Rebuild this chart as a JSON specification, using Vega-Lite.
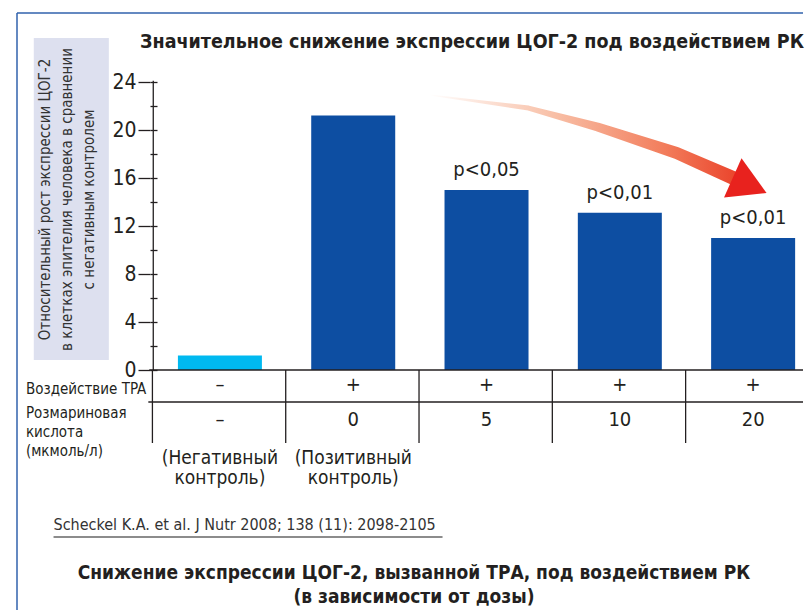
{
  "$schema": "https://vega.github.io/schema/vega-lite/v6.json",
  "width": 796,
  "height": 597,
  "autosize": {"type": "none"},
  "padding": {"left": 12, "top": 13, "right": 0, "bottom": 0},
  "background": "white",
  "config": {
    "font": "Liberation Sans Narrow, DejaVu Sans Condensed, sans-serif",
    "view": {"stroke": null},
    "text": {"color": "#231f20"}
  },
  "title": {
    "text": "Значительное снижение экспрессии ЦОГ-2 под воздействием РК",
    "anchor": "end",
    "frame": "group",
    "orient": "top",
    "offset": 0,
    "dy": 59,
    "dx": -4,
    "fontSize": 19.5,
    "fontWeight": "bold",
    "color": "#231f20",
    "baseline": "bottom"
  },
  "datasets": {
    "groups": [
      {"pos": 1, "group": "Негативный контроль", "value": 1.2, "tpa": "–", "rk": "–", "ctrl": "(Негативный\nконтроль)", "p": ""},
      {"pos": 2, "group": "ТРА", "value": 21.2, "tpa": "+", "rk": "0", "ctrl": "(Позитивный\nконтроль)", "p": ""},
      {"pos": 3, "group": "ТРА + РК", "value": 15.0, "tpa": "+", "rk": "5", "ctrl": "", "p": "p<0,05"},
      {"pos": 4, "group": "ТРА + РК", "value": 13.1, "tpa": "+", "rk": "10", "ctrl": "", "p": "p<0,01"},
      {"pos": 5, "group": "ТРА + РК", "value": 11.0, "tpa": "+", "rk": "20", "ctrl": "", "p": "p<0,01"}
    ],
    "arrow": [
      {"i": 1, "ax": 2.574, "ay": 22.92, "w": 1},
      {"i": 2, "ax": 3.315, "ay": 21.83, "w": 5},
      {"i": 3, "ax": 3.833, "ay": 20.25, "w": 9},
      {"i": 4, "ax": 4.426, "ay": 18.08, "w": 12},
      {"i": 5, "ax": 4.87, "ay": 15.9, "w": 14}
    ],
    "one": [{}]
  },
  "resolve": {"axis": {"y": "independent"}},
  "layer": [
    {
      "data": {"name": "one"},
      "mark": {"type": "rect", "color": "#dde0ef"},
      "encoding": {
        "x": {"datum": -0.3963, "type": "quantitative", "axis": null},
        "x2": {"datum": 0.1667},
        "y": {"datum": 27.667, "type": "quantitative", "axis": null},
        "y2": {"datum": 0.833}
      }
    },
    {
      "data": {"name": "groups"},
      "mark": {"type": "bar", "size": 84, "orient": "vertical"},
      "encoding": {
        "x": {"field": "pos", "type": "quantitative", "scale": {"domain": [-0.5222, 5.3741], "nice": false, "zero": false}, "axis": null},
        "y": {
          "field": "value",
          "type": "quantitative",
          "scale": {"domain": [-20, 29.75], "nice": false, "zero": false},
          "axis": {
            "orient": "left",
            "zindex": 1,
            "values": [0, 4, 8, 12, 16, 20, 24],
            "offset": -138,
            "domain": false,
            "grid": false,
            "tickSize": 12,
            "tickColor": "#231f20",
            "tickWidth": 1.3,
            "labelFontSize": 21,
            "labelColor": "#231f20",
            "labelPadding": 2,
            "title": ["Относительный рост экспрессии ЦОГ-2", "в клетках эпителия человека в сравнении", "с негативным контролем"],
            "titleFontSize": 15,
            "titleFontWeight": "normal",
            "titleColor": "#333333",
            "titleAngle": -90,
            "titleAlign": "center",
            "titleBaseline": "middle",
            "titleLineHeight": 22,
            "titleX": -106,
            "titleY": 186
          }
        },
        "y2": {"datum": 0},
        "color": {
          "field": "group",
          "type": "nominal",
          "scale": {"domain": ["Негативный контроль", "ТРА", "ТРА + РК"], "range": ["#00b9f0", "#0d4ea2", "#0d4ea2"]},
          "legend": null
        }
      }
    },
    {
      "data": {"name": "groups"},
      "mark": {"type": "text", "fontSize": 20, "dy": -20, "baseline": "middle"},
      "encoding": {
        "x": {"field": "pos", "type": "quantitative", "axis": null},
        "y": {
          "field": "value",
          "type": "quantitative",
          "axis": {
            "orient": "left",
            "zindex": 1,
            "values": [0, 2, 4, 6, 8, 10, 12, 14, 16, 18, 20, 22, 24],
            "offset": -138,
            "domain": false,
            "grid": false,
            "labels": false,
            "tickSize": -7,
            "tickColor": "#231f20",
            "tickWidth": 1.3,
            "title": null
          }
        },
        "text": {"field": "p"}
      }
    },
    {
      "data": {"name": "arrow"},
      "mark": {
        "type": "trail",
        "fill": {"gradient": "linear", "x1": 0, "y1": 0, "x2": 1, "y2": 0, "stops": [
          {"offset": 0, "color": "#ffffff"},
          {"offset": 0.4, "color": "#f8bfa6"},
          {"offset": 0.75, "color": "#f27d5c"},
          {"offset": 1, "color": "#ea4028"}
        ]}
      },
      "encoding": {
        "x": {"field": "ax", "type": "quantitative", "axis": null},
        "y": {"field": "ay", "type": "quantitative", "axis": null},
        "size": {"field": "w", "type": "quantitative", "scale": null, "legend": null},
        "order": {"field": "i"}
      }
    },
    {
      "data": {"name": "one"},
      "mark": {"type": "point", "shape": "M -0.86 -1 L 0.86 0 L -0.86 1 Z", "size": 1850, "angle": 24, "filled": true, "color": "#e8221e", "opacity": 1, "strokeWidth": 0},
      "encoding": {
        "x": {"datum": 4.974, "type": "quantitative", "axis": null},
        "y": {"datum": 15.375, "type": "quantitative", "axis": null}
      }
    },
    {
      "data": {"name": "one"},
      "mark": {"type": "rule", "color": "#231f20", "strokeWidth": 1.3},
      "encoding": {
        "x": {"datum": 0.5, "type": "quantitative", "axis": null},
        "y": {"datum": 24.1, "type": "quantitative", "axis": null},
        "y2": {"datum": 0}
      }
    },
    {
      "data": {"name": "groups"},
      "mark": {"type": "rule", "color": "#231f20", "strokeWidth": 1.3, "xOffset": -67.5},
      "encoding": {
        "x": {"field": "pos", "type": "quantitative", "axis": null},
        "y": {"datum": 0, "type": "quantitative", "axis": null},
        "y2": {"datum": -6.083}
      }
    },
    {
      "data": {"name": "one"},
      "mark": {"type": "rule", "color": "#231f20", "strokeWidth": 1.3},
      "encoding": {
        "x": {"datum": 0.47, "type": "quantitative", "axis": null},
        "x2": {"datum": 5.3741},
        "y": {"datum": 0, "type": "quantitative", "axis": null}
      }
    },
    {
      "data": {"name": "one"},
      "mark": {"type": "rule", "color": "#231f20", "strokeWidth": 1.3},
      "encoding": {
        "x": {"datum": 0.463, "type": "quantitative", "axis": null},
        "x2": {"datum": 5.3741},
        "y": {"datum": -2.667, "type": "quantitative", "axis": null}
      }
    },
    {
      "data": {"name": "one"},
      "mark": {"type": "rule", "color": "#3062ad", "strokeWidth": 1.5},
      "encoding": {
        "x": {"datum": -0.5222, "type": "quantitative", "axis": null},
        "y": {"datum": 29.75, "type": "quantitative", "axis": null},
        "y2": {"datum": -20}
      }
    },
    {
      "data": {"name": "one"},
      "mark": {"type": "rule", "color": "#3062ad", "strokeWidth": 1.5},
      "encoding": {
        "x": {"datum": -0.5222, "type": "quantitative", "axis": null},
        "x2": {"datum": 5.3741},
        "y": {"datum": 29.75, "type": "quantitative", "axis": null}
      }
    },
    {
      "data": {"name": "groups"},
      "mark": {"type": "text", "fontSize": 20, "baseline": "middle"},
      "encoding": {
        "x": {"field": "pos", "type": "quantitative", "axis": null},
        "y": {"datum": -1.25, "type": "quantitative", "axis": null},
        "text": {"field": "tpa"}
      }
    },
    {
      "data": {"name": "groups"},
      "mark": {"type": "text", "fontSize": 20, "baseline": "middle"},
      "encoding": {
        "x": {"field": "pos", "type": "quantitative", "axis": null},
        "y": {"datum": -4.17, "type": "quantitative", "axis": null},
        "text": {"field": "rk"}
      }
    },
    {
      "data": {"name": "groups"},
      "mark": {"type": "text", "fontSize": 19, "baseline": "middle", "lineBreak": "\n", "lineHeight": 20},
      "encoding": {
        "x": {"field": "pos", "type": "quantitative", "axis": null},
        "y": {"datum": -7.333, "type": "quantitative", "axis": null},
        "text": {"field": "ctrl"}
      }
    },
    {
      "data": {"name": "one"},
      "mark": {"type": "text", "fontSize": 15, "align": "right", "baseline": "middle"},
      "encoding": {
        "x": {"datum": 0.448, "type": "quantitative", "axis": null},
        "y": {"datum": -1.62, "type": "quantitative", "axis": null},
        "text": {"value": "Воздействие TPA"}
      }
    },
    {
      "data": {"name": "one"},
      "mark": {"type": "text", "fontSize": 15, "align": "left", "baseline": "middle", "lineHeight": 19},
      "encoding": {
        "x": {"datum": -0.4556, "type": "quantitative", "axis": null},
        "y": {"datum": -3.583, "type": "quantitative", "axis": null},
        "text": {"value": ["Розмариновая", "кислота", "(мкмоль/л)"]}
      }
    },
    {
      "data": {"name": "one"},
      "mark": {"type": "text", "fontSize": 16, "align": "left", "baseline": "middle", "color": "#333333"},
      "encoding": {
        "x": {"datum": -0.2481, "type": "quantitative", "axis": null},
        "y": {"datum": -12.917, "type": "quantitative", "axis": null},
        "text": {"value": "Scheckel K.A. et al. J Nutr 2008; 138 (11): 2098-2105"}
      }
    },
    {
      "data": {"name": "one"},
      "mark": {"type": "rule", "color": "#666666", "strokeWidth": 1.5},
      "encoding": {
        "x": {"datum": -0.2481, "type": "quantitative", "axis": null},
        "x2": {"datum": 2.67},
        "y": {"datum": -13.917, "type": "quantitative", "axis": null}
      }
    },
    {
      "data": {"name": "one"},
      "mark": {"type": "text", "fontSize": 19, "fontWeight": "bold", "align": "center", "baseline": "middle", "lineHeight": 24},
      "encoding": {
        "x": {"datum": 2.4556, "type": "quantitative", "axis": null},
        "y": {"datum": -16.917, "type": "quantitative", "axis": null},
        "text": {"value": ["Снижение экспрессии ЦОГ-2, вызванной ТРА, под воздействием РК", "(в зависимости от дозы)"]}
      }
    }
  ]
}
